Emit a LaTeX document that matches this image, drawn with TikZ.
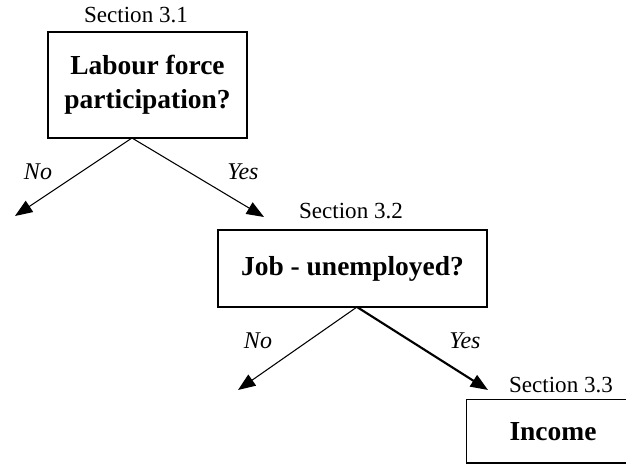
\documentclass[tikz,border=0pt]{standalone}
\usepackage{fontspec}
\setmainfont{Liberation Serif}
\usetikzlibrary{arrows.meta}

\tikzset{
    qbox/.style={draw, thick, align=center, font=\fontsize{20.6}{25.5}\selectfont\bfseries},
    seclabel/.style={font=\fontsize{17.3}{20}\selectfont},
    answer/.style={font=\fontsize{18}{21}\selectfont\itshape},
    branch/.style={-{Triangle[length=13pt,width=10pt]}, thick},
}

\begin{document}
\begin{tikzpicture}[x=0.75pt, y=-0.75pt]
    \useasboundingbox (0,0) rectangle (626,466);
    \coordinate (edge) at (626,0);
    % First question
    \node[qbox, minimum width=149.25pt, minimum height=79.5pt] (labour) at (147.5,85) {Labour force\\participation?};
    \node[seclabel] (sec1) at (136,15) {Section 3.1};
    \coordinate (split1) at (132,138);
    \coordinate (no1) at (15,216);
    \coordinate (yes1) at (264,217);
    \draw[branch] (split1) -- (no1);
    \draw[branch] (split1) -- (yes1);
    \node[answer] (lno1) at (38,172) {No};
    \node[answer] (lyes1) at (243,172) {Yes};
    % Second question
    \node[qbox, minimum width=201.75pt, minimum height=57.75pt] (job) at (352.5,268.5) {Job - unemployed?};
    \node[seclabel] (sec2) at (351,211) {Section 3.2};
    \coordinate (split2) at (357,307);
    \coordinate (no2) at (238,390);
    \coordinate (yes2) at (488,390);
    \draw[branch] (split2) -- (no2);
    \draw[branch, line width=1.6pt] (split2) -- (yes2);
    \node[answer] (lno2) at (258,341) {No};
    \node[answer] (lyes2) at (465,341) {Yes};
    % Outcome, its box runs off the right edge
    \node[qbox, draw=none, minimum width=129pt, minimum height=46.5pt] (income) at (553,431.5) {Income};
    \draw[thick] (income.north west -| edge) -- (income.north west) -- (income.south west) -- (income.south west -| edge);
    \node[seclabel] (sec3) at (561,385) {Section 3.3};
\end{tikzpicture}
\end{document}
